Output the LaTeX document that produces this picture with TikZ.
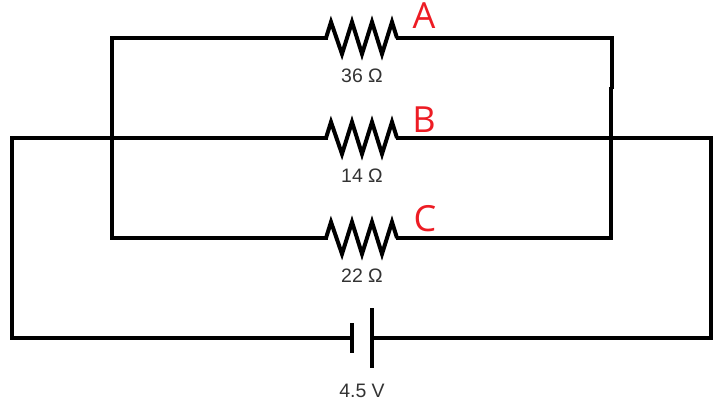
\documentclass[tikz,border=0pt]{standalone}
\usepackage{fontspec}
\setmainfont{Open Sans}
\newfontfamily\valuefont{Liberation Sans}
\definecolor{labelred}{HTML}{ED1C24}
\definecolor{valgray}{HTML}{333333}
\tikzset{
  wire/.style={line width=3pt,line join=miter,line cap=butt,black},
  zig/.style={line width=3pt,line join=miter,miter limit=10,black},
  plate/.style={line width=3.4pt,black},
  value/.style={inner sep=0pt,text=valgray,font=\valuefont\fontsize{14.6pt}{16pt}\selectfont},
  letter/.style={inner sep=0pt,text=labelred,font=\fontsize{27pt}{30pt}\selectfont},
  pics/resistor/.style={code={
    \draw[zig] (-36,0) -- (-31,-16) -- (-20,16) -- (-10,-16) -- (0,16) -- (10,-16) -- (20,16) -- (30,-16) -- (35,0);
  }}
}
\begin{document}
\begin{tikzpicture}[x=0.75pt,y=-0.75pt]
\useasboundingbox (0,0) rectangle (723,404);
% corners and junctions
\coordinate (tl) at (112,38);
\coordinate (tr) at (612,38);
\coordinate (trm) at (612,89);
\coordinate (rm) at (611,87);
\coordinate (cl) at (112,238);
\coordinate (cr) at (611,238);
\coordinate (bl) at (12,138);
\coordinate (br) at (711,138);
\coordinate (pl) at (12,338);
\coordinate (pr) at (711,338);
% resistor terminals
\coordinate (ra) at (362,38);
\coordinate (rb) at (362,138);
\coordinate (rc) at (362,238);
\coordinate (ral) at (328,38);
\coordinate (rar) at (396,38);
\coordinate (rbl) at (328,138);
\coordinate (rbr) at (396,138);
\coordinate (rcl) at (328,238);
\coordinate (rcr) at (396,238);
% battery plates
\coordinate (neg) at (352,338);
\coordinate (pos) at (372,338);
\coordinate (negt) at (352,323);
\coordinate (negb) at (352,353);
\coordinate (post) at (372,308);
\coordinate (posb) at (372,368);
% wires
\draw[wire] (ral) -- (tl) -- (cl) -- (rcl);
\draw[wire] (rar) -- (tr) -- (trm);
\draw[wire] (rm) -- (cr) -- (rcr);
\draw[wire] (rbl) -- (bl) -- (pl) -- (neg);
\draw[wire] (rbr) -- (br) -- (pr) -- (pos);
% resistors
\pic at (ra) {resistor};
\pic at (rb) {resistor};
\pic at (rc) {resistor};
% battery
\draw[plate] (negt) -- (negb);
\draw[plate] (post) -- (posb);
% labels
\node[value] (va) at (362,76) {36 Ω};
\node[value] (vb) at (362,176) {14 Ω};
\node[value] (vc) at (362,276) {22 Ω};
\node[value] (vv) at (362,391) {4.5 V};
\node[letter] (la) at (424,16) {A};
\node[letter] (lb) at (424,120) {B};
\node[letter] (lc) at (425,219) {C};
\end{tikzpicture}
\end{document}
